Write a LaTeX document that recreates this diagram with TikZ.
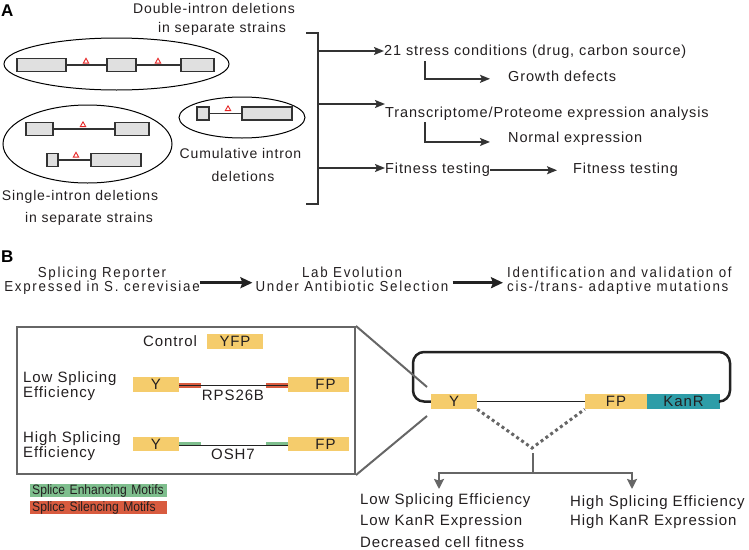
\documentclass[tikz,border=0pt]{standalone}
\usepackage{fontspec}
\setmainfont{Liberation Sans}[LetterSpace=6]
\newfontfamily\narrowfnt{Liberation Sans}[FakeStretch=0.92,LetterSpace=12]
\newfontfamily\legfnt{Liberation Sans}[FakeStretch=0.89]
\usetikzlibrary{arrows.meta,calc}
\definecolor{txt}{HTML}{231F20}
\definecolor{lineA}{HTML}{333333}
\definecolor{grayB}{HTML}{666666}
\definecolor{exon}{HTML}{E0E0E0}
\definecolor{yfp}{RGB}{245,204,108}
\definecolor{kan}{RGB}{46,157,168}
\definecolor{enh}{RGB}{126,190,141}
\definecolor{sil}{RGB}{216,91,63}
\definecolor{tri}{RGB}{230,40,40}
\definecolor{plas}{HTML}{222222}
\tikzset{
  lblA/.style={inner sep=0, text=txt, font=\fontsize{14}{16}\selectfont, anchor=base},
  lblR/.style={inner sep=0, text=txt, font=\fontsize{14.5}{17}\selectfont, anchor=base west},
  lblB/.style={inner sep=0, text=txt, font=\fontsize{15}{17}\selectfont, anchor=base west},
  procB/.style={inner sep=0, text=txt, font=\narrowfnt\fontsize{14.5}{14}\selectfont},
  panel/.style={inner sep=0, text=black, font=\bfseries\fontsize{17}{19}\selectfont, anchor=base west},
  exonbox/.style={draw=lineA, fill=exon, line width=1.1pt, inner sep=0, minimum height=12.5pt},
  intron/.style={draw=lineA, line width=1.1pt},
  delta/.style={draw=tri, line width=0.9pt, line join=miter},
  arrA/.style={draw=lineA, line width=1.6pt, -{Stealth[length=10pt,width=8pt,inset=2pt]}},
  arrB/.style={draw=plas, line width=3.5pt, -{Stealth[length=12pt,width=11pt,inset=2pt]}},
  arrG/.style={draw=grayB, line width=2.5pt, -{Stealth[length=10pt,width=10pt,inset=1.5pt]}},
  genebox/.style={fill=yfp, inner sep=0, minimum height=15pt, text=txt, font=\fontsize{15}{17}\selectfont},
  legbox/.style={inner sep=0, inner xsep=2pt, minimum height=13.3pt, text width=133pt, align=left, anchor=west, text=txt, font=\legfnt\fontsize{13.6}{16}\selectfont},
}
\newcommand{\deltri}[2]{\draw[delta] ({#1},{#2-2.7}) -- ({#1+2.7},{#2+2.1}) -- ({#1-2.7},{#2+2.1}) -- cycle;}
\begin{document}
\lineskiplimit=-20pt
\lineskip=0pt
\begin{tikzpicture}[x=1pt,y=-1pt]
\useasboundingbox (0,0) rectangle (749,549);
% ---------------- Panel A ----------------
\node[panel] (labA) at (1,16.5) {A};
\node[lblA] (dbl1) at (214,13.3) {Double-intron deletions};
\node[lblA] (dbl2) at (222,32) {in separate strains};
\draw[line width=1pt] (116.5,64) ellipse [x radius=112.5, y radius=26];
\node[exonbox, minimum width=49pt] (a1) at (41.5,65) {};
\node[exonbox, minimum width=29pt] (a2) at (121.5,65) {};
\node[exonbox, minimum width=33pt] (a3) at (197.5,65) {};
\draw[intron] (a1.east) -- (a2.west);
\draw[intron] (a2.east) -- (a3.west);
\deltri{86}{61}
\deltri{158}{61}
% single
\draw[line width=1pt] (87.5,144) ellipse [x radius=84.5, y radius=39];
\node[exonbox, minimum width=27pt] (b1) at (39.5,129) {};
\node[exonbox, minimum width=34pt] (b2) at (132,129) {};
\draw[intron] (b1.east) -- (b2.west);
\deltri{83}{124.5}
\node[exonbox, minimum width=11pt, minimum height=13pt] (c1) at (52.5,160) {};
\node[exonbox, minimum width=50pt, minimum height=13pt] (c2) at (116,160) {};
\draw[intron] (c1.east) -- (c2.west);
\deltri{76}{155}
\node[lblA] (sgl1) at (80,200.5) {Single-intron deletions};
\node[lblA] (sgl2) at (89,222) {in separate strains};
% cumulative
\draw[line width=1pt] (242,117.5) ellipse [x radius=63, y radius=20.5];
\node[exonbox, minimum width=12pt, minimum height=13pt] (d1) at (203,113.5) {};
\node[exonbox, minimum width=50pt, minimum height=13pt] (d2) at (267,113.5) {};
\draw[intron] (d1.east) -- (d2.west);
\deltri{228}{108.5}
\node[lblA] (cum1) at (240.5,158.3) {Cumulative intron};
\node[lblA] (cum2) at (243,181.7) {deletions};
% bracket
\draw[lineA, line width=2.2pt] (306,33) -- (318,33) -- (318,204) -- (306,204);
\coordinate (br1) at (318,51);
\coordinate (br2) at (318,104);
\coordinate (br3) at (318,168);
\node[lblR] (stress) at (384,55) {21 stress conditions (drug, carbon source)};
\node[lblR] (growth) at (508,81) {Growth defects};
\node[lblR] (trans) at (385,117.7) {Transcriptome/Proteome expression analysis};
\node[lblR] (normal) at (508,142.7) {Normal expression};
\node[lblR] (fit1) at (385,173) {Fitness testing};
\node[lblR] (fit2) at (573,173) {Fitness testing};
\draw[arrA] (br1) -- (br1 -| stress.west);
\draw[arrA] (br2) -- (br2 -| trans.west);
\draw[arrA] (br3) -- (br3 -| fit1.west);
\coordinate (g0) at (425,61);
\coordinate (n0) at (425,122);
\draw[arrA] (g0) |- ([xshift=-18pt,yshift=-3pt]growth.west);
\draw[arrA] (n0) |- ([xshift=-18pt,yshift=-3pt]normal.west);
\draw[arrA] ([yshift=-1pt]fit1.east) -- ([xshift=-16pt,yshift=-1pt]fit2.west);
% ---------------- Panel B ----------------
\node[panel] (labB) at (1,262) {B};
\node[procB, anchor=north, align=center] (p1) at (102,267) {Splicing Reporter\\Expressed in S. cerevisiae};
\node[procB, anchor=north, align=center] (p2) at (352,267) {Lab Evolution\\Under Antibiotic Selection};
\node[procB, anchor=north west, align=left] (p3) at (507,267) {Identification and validation of\\cis-/trans- adaptive mutations};
\coordinate (arow) at (0,282.7);
\draw[arrB] (p1.east |- arow) -- ([xshift=-3pt]p2.west |- arow);
\draw[arrB] ([xshift=4pt]p2.east |- arow) -- ([xshift=-4pt]p3.west |- arow);
% inset
\node[draw=grayB, line width=2pt, minimum width=338pt, minimum height=147pt, inner sep=0] (inset) at (186,400.5) {};
\node[lblB] (ctrl) at (143,346.4) {Control};
\node[genebox, minimum width=56pt] (yfpc) at (235,341.5) {YFP};
\node[lblB] (lo1) at (23,382.4) {Low Splicing};
\node[lblB] (lo2) at (23,397.6) {Efficiency};
\node[genebox, minimum width=46pt] (ylo) at (156,384.5) {Y};
\node[genebox, minimum width=61pt] (fplo) at (318.5,384.5) {\hspace*{14pt}FP};
\draw[sil, line width=4.5pt] ([yshift=-1pt]ylo.east) -- ++(22,0);
\draw[sil, line width=4.5pt] ([yshift=-1pt]fplo.west) -- ++(-22,0);
\draw[plas, line width=1.3pt] ([yshift=-1pt]ylo.east) -- ([yshift=-1pt]fplo.west);
\node[lblB, anchor=base] (rps) at (233,400) {RPS26B};
\node[lblB] (hi1) at (23,442.4) {High Splicing};
\node[lblB] (hi2) at (23,457.3) {Efficiency};
\node[genebox, minimum width=46pt, minimum height=14pt] (yhi) at (156,444) {Y};
\node[genebox, minimum width=61pt, minimum height=14pt] (fphi) at (318.5,444) {\hspace*{14pt}FP};
\draw[enh, line width=4.5pt] (yhi.east) -- ++(22,0);
\draw[enh, line width=4.5pt] (fphi.west) -- ++(-22,0);
\draw[plas, line width=1.3pt] ([yshift=-1.5pt]yhi.east) -- ([yshift=-1.5pt]fphi.west);
\node[lblB, anchor=base] (osh) at (233,459.5) {OSH7};
% legend
\node[legbox, fill=enh] (legE) at (30,490.7) {Splice Enhancing Motifs};
\node[legbox, fill=sil] (legS) at (30,507.5) {Splice Silencing Motifs};
% plasmid
\node[genebox, minimum width=46pt] (py) at (454,401.5) {Y};
\node[genebox, minimum width=62pt] (pfp) at (616,401.5) {FP};
\node[genebox, minimum width=73pt, fill=kan] (pkan) at (683.5,401.5) {KanR};
\draw[plas, line width=1.5pt] (py.east) -- (pfp.west);
\draw[plas, line width=2.5pt, rounded corners=11pt] (py.west) -- (413,401.5) -- (413,352) -- (730,352) -- (730,401.5) -- (pkan.east);
% zoom lines
\coordinate (z1) at (427,387);
\coordinate (z2) at (427,416);
\draw[grayB, line width=2pt] (inset.north east) -- (z1);
\draw[grayB, line width=2pt] (inset.south east) -- (z2);
% dotted splice
\coordinate (apex) at (532,448);
\draw[grayB, line width=3pt, dash pattern=on 3pt off 3pt] (py.south east) -- (apex) -- (pfp.south west);
\coordinate (apex2) at (533,453);
\coordinate (split) at (533,473);
\coordinate (tl) at (439,489);
\coordinate (tr) at (632,489);
\draw[grayB, line width=2.5pt] (apex2) -- (split);
\draw[arrG] (split) -| (tl);
\draw[arrG] (split) -| (tr);
\node[lblB] (r1) at (360,504) {Low Splicing Efficiency};
\node[lblB] (r2) at (360,525.7) {Low KanR Expression};
\node[lblB] (r3) at (360,547) {Decreased cell fitness};
\node[lblB] (r4) at (570,506.7) {High Splicing Efficiency};
\node[lblB] (r5) at (570,525.7) {High KanR Expression};
\end{tikzpicture}
\end{document}
